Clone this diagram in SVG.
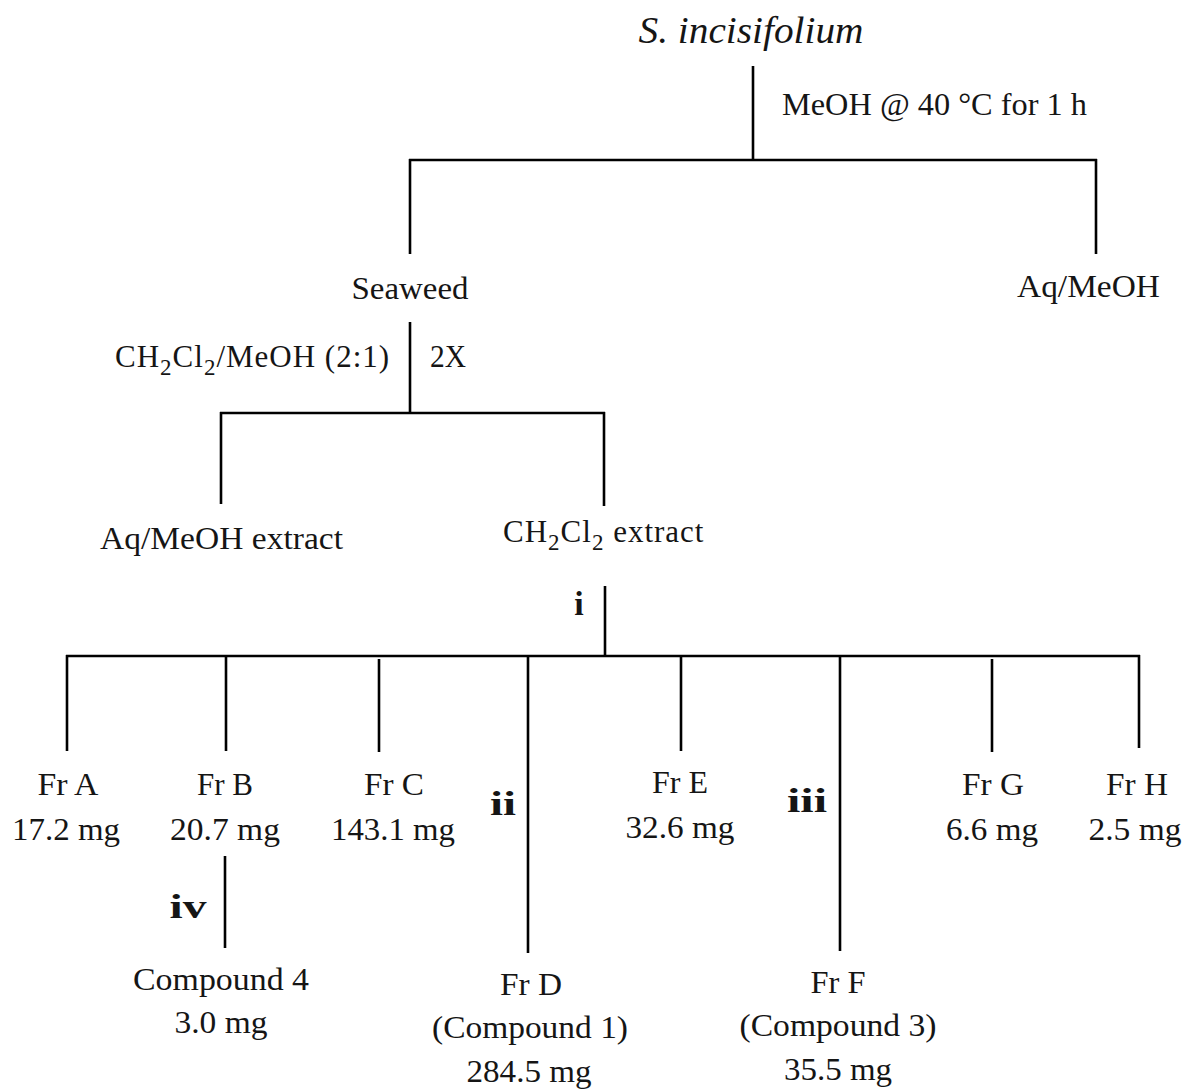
<svg xmlns="http://www.w3.org/2000/svg" width="1185" height="1090" viewBox="0 0 1185 1090">
<style>
text{font-family:"Liberation Serif","Times New Roman",serif;font-size:31px;fill:#151515}
.c{text-anchor:middle}
.it{font-style:italic;font-size:37px}
.b{font-weight:bold;font-size:34px}
.sub{font-size:23px}
.ls{letter-spacing:1px}
#connectors line{stroke:#000;stroke-width:2.6;stroke-linecap:butt}
</style>
<rect width="1185" height="1090" fill="#fff"/>
<g id="connectors">
<line x1="753" y1="66" x2="753" y2="161"/>
<line x1="409" y1="160" x2="1097" y2="160"/>
<line x1="410" y1="159" x2="410" y2="254"/>
<line x1="1096" y1="159" x2="1096" y2="254"/>
<line x1="410" y1="322" x2="410" y2="414"/>
<line x1="220" y1="413" x2="605" y2="413"/>
<line x1="221" y1="412" x2="221" y2="504"/>
<line x1="604" y1="412" x2="604" y2="506"/>
<line x1="605" y1="586" x2="605" y2="657"/>
<line x1="66" y1="656" x2="1140" y2="656"/>
<line x1="67" y1="655" x2="67" y2="751"/>
<line x1="226" y1="655" x2="226" y2="751"/>
<line x1="379" y1="659" x2="379" y2="752"/>
<line x1="528" y1="655" x2="528" y2="953"/>
<line x1="681" y1="655" x2="681" y2="751"/>
<line x1="840" y1="655" x2="840" y2="951"/>
<line x1="992" y1="659" x2="992" y2="752"/>
<line x1="1139" y1="655" x2="1139" y2="748"/>
<line x1="225" y1="856" x2="225" y2="948"/>
</g>
<g id="source"><text class="c it" x="751" y="43" textLength="225" lengthAdjust="spacingAndGlyphs">S. incisifolium</text></g>
<g id="step-meoh"><text x="782" y="115" textLength="305" lengthAdjust="spacingAndGlyphs">MeOH @ 40 °C for 1 h</text></g>
<g id="seaweed"><text class="c" x="410" y="299" textLength="117" lengthAdjust="spacingAndGlyphs">Seaweed</text></g>
<g id="aq-meoh"><text x="1017" y="297" textLength="143" lengthAdjust="spacingAndGlyphs">Aq/MeOH</text></g>
<g id="step-dcm"><text class="ls" x="115" y="367">CH<tspan class="sub" dy="8">2</tspan><tspan dy="-8">Cl</tspan><tspan class="sub" dy="8">2</tspan><tspan dy="-8">/MeOH (2:1)</tspan></text>
<text x="430" y="367" textLength="36" lengthAdjust="spacingAndGlyphs">2X</text></g>
<g id="aq-meoh-extract"><text x="100" y="549" textLength="243" lengthAdjust="spacingAndGlyphs">Aq/MeOH extract</text></g>
<g id="dcm-extract"><text class="ls" x="503" y="542">CH<tspan class="sub" dy="8">2</tspan><tspan dy="-8">Cl</tspan><tspan class="sub" dy="8">2</tspan><tspan dy="-8"> extract</tspan></text></g>
<g id="step-i"><text class="c b" x="579" y="615">i</text></g>
<g id="fr-a"><text class="c" x="68" y="795" textLength="61" lengthAdjust="spacingAndGlyphs">Fr A</text><text class="c" x="66" y="840" textLength="108" lengthAdjust="spacingAndGlyphs">17.2 mg</text></g>
<g id="fr-b"><text class="c" x="225" y="795" textLength="56" lengthAdjust="spacingAndGlyphs">Fr B</text><text class="c" x="225" y="840" textLength="110" lengthAdjust="spacingAndGlyphs">20.7 mg</text></g>
<g id="fr-c"><text class="c" x="394" y="795" textLength="60" lengthAdjust="spacingAndGlyphs">Fr C</text><text class="c" x="393" y="840" textLength="124" lengthAdjust="spacingAndGlyphs">143.1 mg</text></g>
<g id="step-ii"><text class="c b" x="503" y="815" textLength="26" lengthAdjust="spacingAndGlyphs">ii</text></g>
<g id="fr-e"><text class="c" x="680" y="793" textLength="56" lengthAdjust="spacingAndGlyphs">Fr E</text><text class="c" x="680" y="838" textLength="109" lengthAdjust="spacingAndGlyphs">32.6 mg</text></g>
<g id="step-iii"><text class="c b" x="807" y="812" textLength="40" lengthAdjust="spacingAndGlyphs">iii</text></g>
<g id="fr-g"><text class="c" x="993" y="795" textLength="62" lengthAdjust="spacingAndGlyphs">Fr G</text><text class="c" x="992" y="840" textLength="92" lengthAdjust="spacingAndGlyphs">6.6 mg</text></g>
<g id="fr-h"><text class="c" x="1137" y="795" textLength="62" lengthAdjust="spacingAndGlyphs">Fr H</text><text class="c" x="1135" y="840" textLength="93" lengthAdjust="spacingAndGlyphs">2.5 mg</text></g>
<g id="step-iv"><text class="c b" x="188" y="918" textLength="37" lengthAdjust="spacingAndGlyphs">iv</text></g>
<g id="compound-4"><text class="c" x="221" y="990" textLength="176" lengthAdjust="spacingAndGlyphs">Compound 4</text><text class="c" x="221" y="1033" textLength="93" lengthAdjust="spacingAndGlyphs">3.0 mg</text></g>
<g id="fr-d"><text class="c" x="531" y="995" textLength="62" lengthAdjust="spacingAndGlyphs">Fr D</text><text class="c" x="530" y="1038" textLength="196" lengthAdjust="spacingAndGlyphs">(Compound 1)</text><text class="c" x="529" y="1082" textLength="125" lengthAdjust="spacingAndGlyphs">284.5 mg</text></g>
<g id="fr-f"><text class="c" x="838" y="993" textLength="55" lengthAdjust="spacingAndGlyphs">Fr F</text><text class="c" x="838" y="1036" textLength="197" lengthAdjust="spacingAndGlyphs">(Compound 3)</text><text class="c" x="838" y="1080" textLength="108" lengthAdjust="spacingAndGlyphs">35.5 mg</text></g>
</svg>
